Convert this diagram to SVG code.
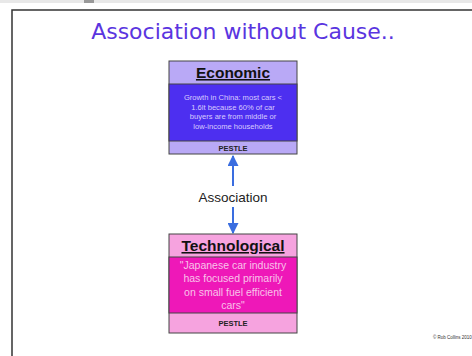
<svg xmlns="http://www.w3.org/2000/svg" width="472" height="356" viewBox="0 0 472 356">
<defs>
<style>
.title{font-family:"DejaVu Sans",Verdana,sans-serif;font-size:22px;fill:#5a35e0;text-anchor:middle}
.hd{font-family:"Liberation Sans",Arial,sans-serif;font-weight:bold;font-size:15.5px;fill:#111;text-anchor:middle;text-decoration:underline}
.body{font-family:"Liberation Sans",Arial,sans-serif;text-anchor:middle}
.pes{font-family:"Liberation Sans",Arial,sans-serif;font-weight:bold;font-size:7.5px;fill:#222;text-anchor:middle}
.box{stroke:#444;stroke-width:1}
.conn{stroke:#3a6de0;stroke-width:2;fill:none}
</style>
<marker id="ah" viewBox="0 0 10 10" refX="9" refY="5" markerWidth="5.5" markerHeight="5.5" orient="auto-start-reverse">
<path d="M0,0 L10,5 L0,10 z" fill="#3a6de0"/>
</marker>
</defs>
<rect x="0" y="0" width="472" height="3" fill="#e8e8e8"/>
<rect x="84" y="0" width="10" height="3" fill="#999"/>
<rect x="12" y="10" width="470" height="360" fill="#fff" stroke="#333" stroke-width="1.5"/>
<text class="title" x="243" y="39">Association without Cause..</text>
<g id="economic">
<rect class="box" x="169" y="61" width="128" height="93" fill="#b9a9f6"/>
<rect class="box" x="169" y="84" width="128" height="57" fill="#4d2ff0"/>
<text class="hd" x="233" y="78">Economic</text>
<text class="body" font-size="7.6" fill="#d8ccff"><tspan x="233" y="100">Growth in China: most cars &lt;</tspan><tspan x="233" y="109.5">1.6lt because 60% of car</tspan><tspan x="233" y="119">buyers are from middle or</tspan><tspan x="233" y="128.5">low-income households</tspan></text>
<text class="pes" x="233" y="150.5">PESTLE</text>
</g>
<g id="connectors">
<line class="conn" x1="233" y1="186" x2="233" y2="156" marker-end="url(#ah)"/>
<line class="conn" x1="233" y1="207" x2="233" y2="233" marker-end="url(#ah)"/>
</g>
<text class="body" x="233" y="202" font-size="13.5" fill="#222">Association</text>
<g id="technological">
<rect class="box" x="169" y="234" width="128" height="99" fill="#f6a3df"/>
<rect class="box" x="169" y="257" width="128" height="56" fill="#ee18b8"/>
<text class="hd" x="233" y="251">Technological</text>
<text class="body" font-size="10.5" fill="#f9c3ea"><tspan x="233" y="268.5">"Japanese car industry</tspan><tspan x="233" y="282">has focused primarily</tspan><tspan x="233" y="295.5">on small fuel efficient</tspan><tspan x="233" y="309">cars"</tspan></text>
<text class="pes" x="233" y="326">PESTLE</text>
</g>
<text x="433" y="339" font-family="Liberation Sans, Arial, sans-serif" font-size="4.5" fill="#333">© Rob Collins 2010</text>
</svg>
